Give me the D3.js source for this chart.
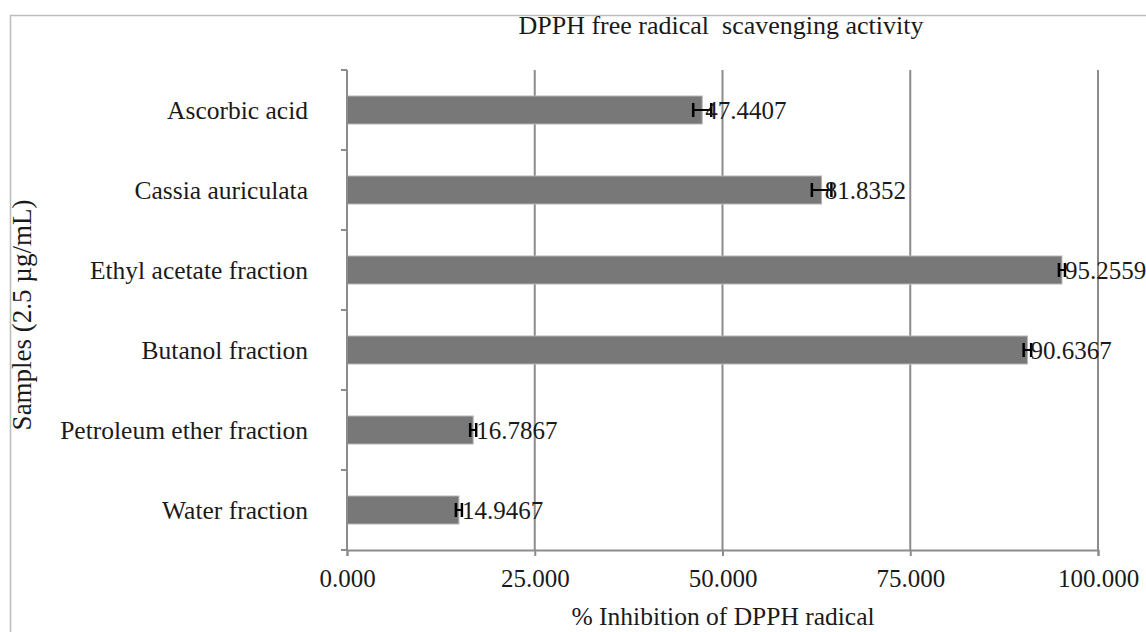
<!DOCTYPE html>
<html>
<head>
<meta charset="utf-8">
<script src="https://cdn.jsdelivr.net/npm/d3@7"></script>
<style>
  html, body { margin: 0; padding: 0; background: #fff; }
  svg { display: block; }
  text { font-family: "Liberation Serif", "Times New Roman", serif; fill: #1a1a1a; white-space: pre; }
</style>
</head>
<body>
<svg id="chart" width="1146" height="632"></svg>
<script>
const categories = ["Ascorbic acid", "Cassia auriculata", "Ethyl acetate fraction", "Butanol fraction", "Petroleum ether fraction", "Water fraction"];
const values = [47.3, 63.2, 95.2, 90.6, 16.8, 14.9];
const errors = [1.2, 1.3, 0.4, 0.5, 0.4, 0.4];
const valueLabels = ["47.4407", "81.8352", "95.2559", "90.6367", "16.7867", "14.9467"];
const xTicks = [0, 25, 50, 75, 100];
const title = "DPPH free radical  scavenging activity";
const xTitle = "% Inhibition of DPPH radical";
const yTitle = "Samples (2.5 µg/mL)";

const svg = d3.select("#chart");
const W = 1146, H = 632;
const m = { left: 347, right: 48, top: 70, bottom: 82 };
const iw = W - m.left - m.right, ih = H - m.top - m.bottom;

// outer frame
svg.append("rect").attr("x", 10.5).attr("y", 15.5).attr("width", W + 20).attr("height", H + 20)
  .attr("fill", "none").attr("stroke", "#bdbdbd").attr("stroke-width", 1.5);

const x = d3.scaleLinear().domain([0, 100]).range([0, iw]);
const y = d3.scaleBand().domain(categories).range([0, ih]).paddingInner(0.65).paddingOuter(0.325);

const g = svg.append("g").attr("transform", `translate(${m.left},${m.top})`);

// gridlines
g.append("g").selectAll("line").data(xTicks.filter(d => d > 0)).join("line")
  .attr("x1", d => x(d)).attr("x2", d => x(d)).attr("y1", 0).attr("y2", ih)
  .attr("stroke", "#8c8c8c").attr("stroke-width", 2);

// bars
g.append("g").selectAll("rect").data(categories).join("rect")
  .attr("x", 0).attr("y", d => y(d))
  .attr("width", (d, i) => x(values[i])).attr("height", y.bandwidth())
  .attr("fill", "#787878").attr("stroke", "#b5b5b5").attr("stroke-width", 1);

// x axis
const xAxis = g.append("g").attr("transform", `translate(0,${ih})`)
  .call(d3.axisBottom(x).tickValues(xTicks).tickFormat(d3.format(".3f")).tickSize(6).tickPadding(13));
xAxis.select(".domain").attr("stroke", "#8c8c8c").attr("stroke-width", 2);
xAxis.selectAll(".tick line").attr("stroke", "#8c8c8c").attr("stroke-width", 2);
xAxis.selectAll("text").style("font-size", "25px").style("font-family", "Liberation Serif").attr("fill", "#1a1a1a");

// y axis
const bandEdges = d3.range(categories.length + 1).map(i => i * (ih / categories.length));
const yAxisG = g.append("g");
yAxisG.append("line").attr("x1", 0).attr("x2", 0).attr("y1", 0).attr("y2", ih)
  .attr("stroke", "#8c8c8c").attr("stroke-width", 2);
yAxisG.selectAll("line.tk").data(bandEdges).join("line").attr("class", "tk")
  .attr("x1", -6).attr("x2", 0).attr("y1", d => d).attr("y2", d => d)
  .attr("stroke", "#8c8c8c").attr("stroke-width", 2);
yAxisG.selectAll("text").data(categories).join("text")
  .attr("x", -39).attr("y", d => y(d) + y.bandwidth() / 2).attr("dy", "0.35em")
  .attr("text-anchor", "end").style("font-size", "25.5px").text(d => d);

// error bars
const eb = g.append("g").selectAll("g").data(categories).join("g");
eb.append("line")
  .attr("x1", (d, i) => x(values[i] - errors[i])).attr("x2", (d, i) => x(values[i] + errors[i]))
  .attr("y1", d => y(d) + y.bandwidth() / 2).attr("y2", d => y(d) + y.bandwidth() / 2)
  .attr("stroke", "#000").attr("stroke-width", 2);
[-1, 1].forEach(s => {
  eb.append("line")
    .attr("x1", (d, i) => x(values[i] + s * errors[i])).attr("x2", (d, i) => x(values[i] + s * errors[i]))
    .attr("y1", d => y(d) + y.bandwidth() / 2 - 7).attr("y2", d => y(d) + y.bandwidth() / 2 + 7)
    .attr("stroke", "#000").attr("stroke-width", 2.5);
});

// value labels
g.append("g").selectAll("text").data(categories).join("text")
  .attr("x", (d, i) => x(values[i]) + 3).attr("y", d => y(d) + y.bandwidth() / 2).attr("dy", "0.36em")
  .style("font-size", "25px").text((d, i) => valueLabels[i]);

// titles
svg.append("text").attr("x", 721).attr("y", 34).attr("text-anchor", "middle")
  .style("font-size", "26px").text(title);
svg.append("text").attr("x", 723).attr("y", 625).attr("text-anchor", "middle")
  .style("font-size", "25.5px").text(xTitle);
svg.append("text").attr("transform", "translate(31,315) rotate(-90)").attr("text-anchor", "middle")
  .style("font-size", "27px").text(yTitle);
</script>
</body>
</html>
